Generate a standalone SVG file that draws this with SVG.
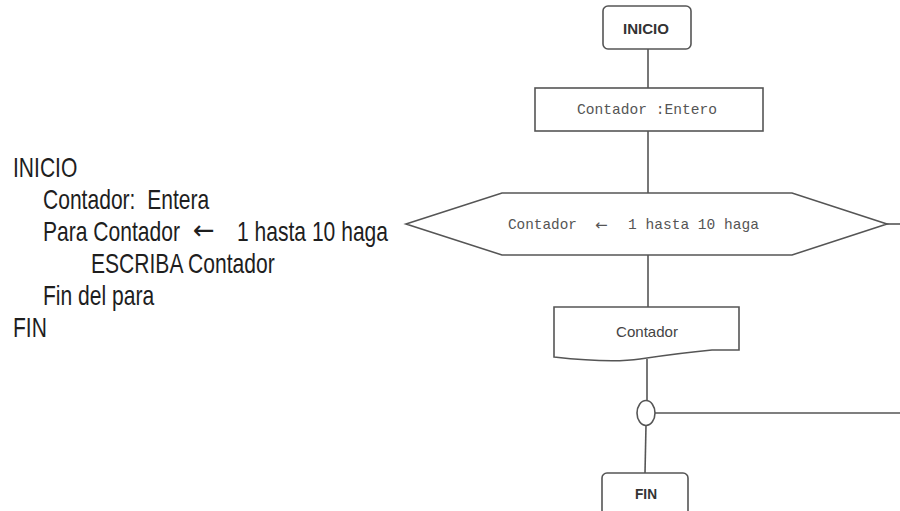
<svg xmlns="http://www.w3.org/2000/svg" width="900" height="511" viewBox="0 0 900 511">
<style>
.shape{fill:#fff;stroke:#555;stroke-width:1.6}
.conn{stroke:#555;stroke-width:1.6;fill:none}
.code{font-family:"Liberation Sans",Arial,sans-serif;font-size:27px;fill:#1e1e1e}
.arrow{font-family:"DejaVu Sans",sans-serif;font-size:26px;fill:#1e1e1e}
.mono{font-family:"Liberation Mono","Courier New",monospace;font-size:14.4px;fill:#555}
.marrow{font-family:"DejaVu Sans",sans-serif;font-size:15px;fill:#555}
.lbl{font-family:"Liberation Sans",Arial,sans-serif;font-size:15px;fill:#444}
.term{font-family:"Liberation Sans",Arial,sans-serif;font-size:15px;font-weight:bold;fill:#333}
</style>
<rect width="900" height="511" fill="#fff"/>
<g id="pseudocode">
<text class="code" transform="translate(13,177) scale(0.78,1)">INICIO</text>
<text class="code" transform="translate(43,209) scale(0.78,1)" xml:space="preserve">Contador:  Entera</text>
<text class="code" transform="translate(43,241) scale(0.78,1)">Para Contador</text>
<text class="arrow" x="193" y="239">←</text>
<text class="code" transform="translate(237,241) scale(0.78,1)">1 hasta 10 haga</text>
<text class="code" transform="translate(91,273) scale(0.78,1)">ESCRIBA Contador</text>
<text class="code" transform="translate(43,305) scale(0.78,1)">Fin del para</text>
<text class="code" transform="translate(13,337) scale(0.78,1)">FIN</text>
</g>
<g id="connectors">
<line class="conn" x1="648" y1="49" x2="648" y2="88"/>
<line class="conn" x1="648" y1="131" x2="648" y2="193"/>
<line class="conn" x1="648" y1="255" x2="648" y2="307"/>
<line class="conn" x1="887" y1="224" x2="900" y2="224"/>
<line class="conn" x1="647" y1="359" x2="647" y2="400"/>
<line class="conn" x1="655" y1="413" x2="900" y2="413"/>
<line class="conn" x1="646" y1="425" x2="645" y2="473"/>
</g>
<g id="inicio">
<rect class="shape" x="603" y="6" width="88" height="43" rx="5"/>
<text class="term" x="623" y="34" textLength="46" lengthAdjust="spacingAndGlyphs">INICIO</text>
</g>
<g id="declaracion">
<rect class="shape" x="535" y="88" width="228" height="43"/>
<text class="mono" x="577" y="114" textLength="140" lengthAdjust="spacingAndGlyphs">Contador :Entero</text>
</g>
<g id="para">
<polygon class="shape" points="406,224 502,193 792,193 887,224 792,255 502,255"/>
<text class="mono" x="508" y="229" textLength="69" lengthAdjust="spacingAndGlyphs">Contador</text>
<text class="marrow" x="595" y="230">←</text>
<text class="mono" x="628" y="229" textLength="131" lengthAdjust="spacingAndGlyphs">1 hasta 10 haga</text>
</g>
<g id="escriba">
<path class="shape" d="M554,307 H739 V350 H712 C680,353 660,356 640,359 C620,362 590,361 554,357 Z"/>
<text class="lbl" x="616" y="337" textLength="62" lengthAdjust="spacingAndGlyphs">Contador</text>
</g>
<g id="conector">
<ellipse class="shape" cx="646" cy="413" rx="9" ry="12.5"/>
</g>
<g id="fin">
<rect class="shape" x="602" y="473" width="86" height="45" rx="5"/>
<text class="term" x="635" y="499" textLength="22" lengthAdjust="spacingAndGlyphs">FIN</text>
</g>
</svg>
